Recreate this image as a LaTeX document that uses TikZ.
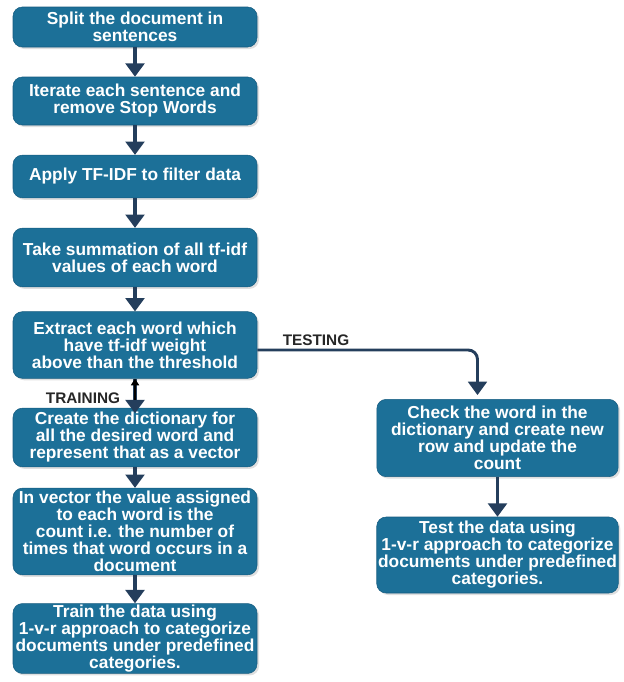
\documentclass[tikz,border=0pt]{standalone}
\usepackage{fontspec}
\setmainfont{Liberation Sans}
\usetikzlibrary{arrows.meta,shadows,positioning}
\definecolor{boxblue}{RGB}{28,112,152}
\definecolor{boxedge}{RGB}{22,92,128}
\definecolor{arrownavy}{RGB}{36,62,92}
\tikzset{
  stepbox/.style={rectangle, rounded corners=7pt, fill=boxblue, draw=boxedge,
    text=white, font=\fontsize{13}{12.75}\selectfont\bfseries, align=center,
    minimum width=183pt, inner sep=1pt,
    drop shadow={opacity=0.25, shadow xshift=1.5pt, shadow yshift=-1.5pt}},
  flow/.style={draw=arrownavy, line width=2.8pt,
    -{Triangle[width=14pt,length=10pt]}},
  tag/.style={font=\fontsize{11.5}{12}\selectfont\bfseries, text=black!85}
}
\begin{document}
\begin{tikzpicture}[x=0.75pt, y=-0.75pt]
  \useasboundingbox (0,0) rectangle (624,682);
  % training side
  \node[stepbox, minimum height=30pt] (Split) at (135,27) {Split the document in\\sentences};
  \node[stepbox, minimum height=36pt] (Iter) at (135,101) {Iterate each sentence and\\remove Stop Words};
  \node[stepbox, minimum height=32pt] (Tfidf) at (135,176.5) {Apply TF-IDF to filter data};
  \node[stepbox, minimum height=44pt] (Sum) at (135,257.5) {Take summation of all tf-idf\\values of each word};
  \node[stepbox, minimum height=50pt] (Extract) at (135,345) {Extract each word which\\have tf-idf weight\\above than the threshold};
  \node[stepbox, minimum height=44pt] (Dict) at (135,437.5) {Create the dictionary for\\all the desired word and\\represent that as a vector};
  \node[stepbox, minimum height=65pt] (Vec) at (135,531.5) {In vector the value assigned\\to each word is the\\count i.e. the number of\\times that word occurs in a\\document};
  \node[stepbox, minimum height=50pt] (Train) at (135,638.5) {Train the data using\\1-v-r approach to categorize\\documents under predefined\\categories.};
  % testing side
  \node[stepbox, minimum height=58pt, minimum width=181pt] (Check) at (497.5,438) {Check the word in the\\dictionary and create new\\row and update the\\count};
  \node[stepbox, minimum height=57pt, minimum width=181pt] (Test) at (497.5,555) {Test the data using\\1-v-r approach to categorize\\documents under predefined\\categories.};

  \draw[flow] (Split) -- (Iter);
  \draw[flow] (Iter) -- (Tfidf);
  \draw[flow] (Tfidf) -- (Sum);
  \draw[flow] (Sum) -- (Extract);
  \draw[flow, shorten >=-4pt] (Extract) -- (Dict);
  \draw[black, line width=1.6pt, -{Triangle[width=6pt,length=5pt]}] ([yshift=6pt]Dict.north) -- (Extract.south);
  \draw[flow] (Vec.north |- Dict.south) -- (Vec);
  \draw[flow] (Vec) -- (Train);
  \draw[flow, line width=2.2pt, rounded corners=7pt] ([yshift=-3.75pt]Extract.east) -| ([xshift=-15pt, yshift=3pt]Check.north);
  \draw[flow] (Check) -- (Test);

  \node[tag] (testing) at (316,340) {TESTING};
  \node[tag] (training) at (83,398) {TRAINING};
\end{tikzpicture}
\end{document}
